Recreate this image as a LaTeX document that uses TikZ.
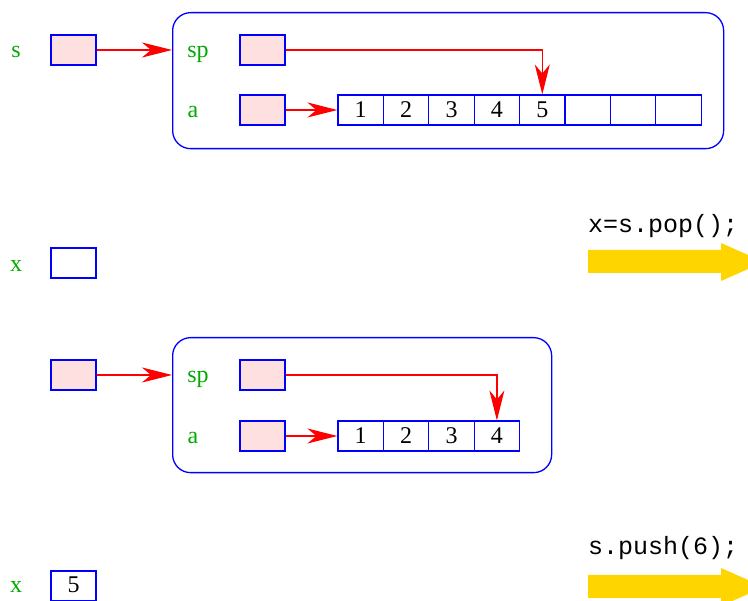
\documentclass[tikz,border=0pt]{standalone}
\usepackage{fontspec}
\setmainfont{Liberation Serif}
\setmonofont{Liberation Mono}
\usetikzlibrary{arrows.meta}
\definecolor{lblgreen}{RGB}{0,170,0}
\definecolor{ptrpink}{RGB}{255,224,224}
\definecolor{bigyellow}{RGB}{255,213,0}
\tikzset{
  ptrbox/.style={draw=blue, fill=ptrpink, line width=1.1pt, minimum width=45pt, minimum height=30pt, inner sep=0pt},
  cellbox/.style={draw=blue, fill=white, line width=1.1pt, minimum width=45.4pt, minimum height=30pt, inner sep=0pt, font=\fontsize{24}{28}\selectfont},
  celltxt/.style={font=\fontsize{24}{28}\selectfont, inner sep=0pt, anchor=base},
  varlbl/.style={text=lblgreen, font=\fontsize{24}{28}\selectfont, inner sep=0pt, anchor=base},
  ptrarrow/.style={draw=red, line width=1.2pt, -{Stealth[length=30pt,width=15pt,inset=9pt]}},
  frame/.style={draw=blue, line width=1.3pt, rounded corners=18pt},
  codelbl/.style={font=\ttfamily\fontsize{25}{28}\selectfont, anchor=base west, inner sep=0pt},
  fatarrow/.style={fill=bigyellow}
}
\begin{document}
\begin{tikzpicture}[x=1pt,y=-1pt]
\useasboundingbox (0,0) rectangle (748,601);
\clip (0,0) rectangle (748,601);
% ---------- top state ----------
\node[frame, minimum width=551pt, minimum height=136pt, anchor=north west] (f1) at (172,12) {};
\node[varlbl] (s1l) at (16,58) {s};
\node[ptrbox] (s1) at (73.5,50) {};
\node[varlbl] (sp1l) at (198,58) {sp};
\node[ptrbox] (sp1) at (262.5,50) {};
\node[varlbl] (a1l) at (193,118) {a};
\node[ptrbox] (a1) at (262.5,110) {};
\foreach \i/\v in {1/1,2/2,3/3,4/4,5/5,6/{},7/{},8/{}} {
  \node[cellbox] (c1\i) at ({338+22.7+45.4*(\i-1)},110) {};
  \node[celltxt] (t1\i) at ({338+22.7+45.4*(\i-1)},118) {\v};
}
\draw[ptrarrow] (s1.east) -- (s1.east -| f1.west);
\draw[ptrarrow] (a1.east) -- (c11.west);
\draw[ptrarrow] (sp1.east) -| (c15.north);
% ---------- x and pop ----------
\node[varlbl] (x1l) at (16,272) {x};
\node[ptrbox, fill=white] (x1) at (73.5,263) {};
\node[codelbl] (pop) at (588,233) {x=s.pop();};
\fill[fatarrow] (588,250) -- (721,250) -- (721,243) -- (764,262) -- (721,281) -- (721,273) -- (588,273) -- cycle;
% ---------- lower state ----------
\node[frame, minimum width=379pt, minimum height=135pt, anchor=north west] (f2) at (172,337) {};
\node[ptrbox] (s2) at (73.5,375) {};
\node[varlbl] (sp2l) at (198,383) {sp};
\node[ptrbox] (sp2) at (262.5,375) {};
\node[varlbl] (a2l) at (193,444) {a};
\node[ptrbox] (a2) at (262.5,436) {};
\foreach \i in {1,2,3,4} {
  \node[cellbox] (c2\i) at ({338+22.7+45.4*(\i-1)},436) {};
  \node[celltxt] (t2\i) at ({338+22.7+45.4*(\i-1)},444) {\i};
}
\draw[ptrarrow] (s2.east) -- (s2.east -| f2.west);
\draw[ptrarrow] (a2.east) -- (c21.west);
\draw[ptrarrow] (sp2.east) -| (c24.north);
% ---------- x and push ----------
\node[varlbl] (x2l) at (16,593) {x};
\node[cellbox, minimum width=45pt] (x2) at (73.5,586) {};
\node[celltxt] (x2v) at (73.5,593) {5};
\node[codelbl] (push) at (588,555) {s.push(6);};
\fill[fatarrow] (588,575) -- (721,575) -- (721,568) -- (764,587) -- (721,606) -- (721,598) -- (588,598) -- cycle;
\end{tikzpicture}
\end{document}
